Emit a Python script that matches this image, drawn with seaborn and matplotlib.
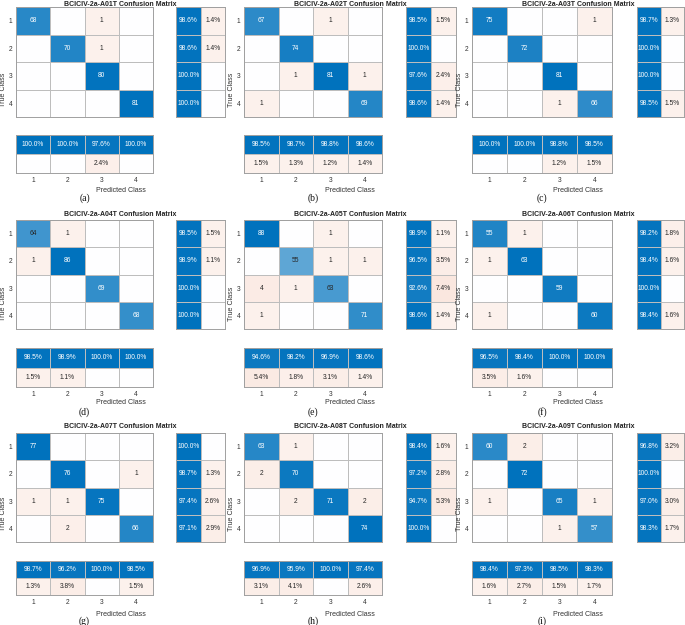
import numpy as np
import matplotlib
matplotlib.use("Agg")
import matplotlib.pyplot as plt
import seaborn as sns
from matplotlib.colors import LinearSegmentedColormap

# confusion matrices (rows = true class, cols = predicted class)
cm_A01 = [[68, 0, 1, 0], [0, 70, 1, 0], [0, 0, 80, 0], [0, 0, 0, 81]]
cm_A02 = [[67, 0, 1, 0], [0, 74, 0, 0], [0, 1, 81, 1], [1, 0, 0, 69]]
cm_A03 = [[75, 0, 0, 1], [0, 72, 0, 0], [0, 0, 81, 0], [0, 0, 1, 66]]
cm_A04 = [[64, 1, 0, 0], [1, 86, 0, 0], [0, 0, 69, 0], [0, 0, 0, 68]]
cm_A05 = [[88, 0, 1, 0], [0, 55, 1, 1], [4, 1, 63, 0], [1, 0, 0, 71]]
cm_A06 = [[55, 1, 0, 0], [1, 63, 0, 0], [0, 0, 59, 0], [1, 0, 0, 60]]
cm_A07 = [[77, 0, 0, 0], [0, 76, 0, 1], [1, 1, 75, 0], [0, 2, 0, 66]]
cm_A08 = [[63, 1, 0, 0], [2, 70, 0, 0], [0, 2, 71, 2], [0, 0, 0, 74]]
cm_A09 = [[60, 2, 0, 0], [0, 72, 0, 0], [1, 0, 65, 1], [0, 0, 1, 57]]

subjects = ["A01T", "A02T", "A03T", "A04T", "A05T", "A06T", "A07T", "A08T", "A09T"]
panel_letters = ["(a)", "(b)", "(c)", "(d)", "(e)", "(f)", "(g)", "(h)", "(i)"]
class_labels = ["1", "2", "3", "4"]
matrices = [cm_A01, cm_A02, cm_A03, cm_A04, cm_A05, cm_A06, cm_A07, cm_A08, cm_A09]

W, H = 685, 625
BLUE = "#0072BD"
ORANGE = "#D95319"
cmap = LinearSegmentedColormap.from_list("cc", [ORANGE, "white", BLUE])
GRID = "#bdbdbd"
FONT = "Liberation Sans"
FS = 4.8

# pixel layout: column x ranges (main left/right, row-summary left/right)
col_x = [(16, 153, 176, 225), (244, 382, 406, 456), (472, 612, 637, 684)]
# row y ranges (title, main top/bottom, col-summary top/bottom, ticks, xlabel, letter)
row_y = [(4.5, 7, 117, 135, 173, 180, 190, 198),
         (214, 220, 329, 348, 387, 393, 402, 412),
         (426, 433, 542, 561, 595, 603, 614, 621)]


def add_ax(fig, x0, x1, y0, y1):
    return fig.add_axes([x0 / W, 1 - y1 / H, (x1 - x0) / W, (y1 - y0) / H])


def shade(correct, frac):
    # diagonal -> blue scale, off-diagonal -> light orange scale
    if frac == 0:
        return 0.0
    return frac if correct else -(0.07 + 0.9 * frac)


def text_color(v):
    r, g, b, _ = cmap((v + 1) / 2)
    lum = 0.299 * r + 0.587 * g + 0.114 * b
    return "white" if lum < 0.5 else "#262626"


def draw_grid(ax, vals, labels):
    sns.heatmap(vals, ax=ax, cmap=cmap, vmin=-1, vmax=1, cbar=False,
                linewidths=0.6, linecolor=GRID, xticklabels=False, yticklabels=False)
    for sp in ax.spines.values():
        sp.set_visible(True)
        sp.set_color("#a0a0a0")
        sp.set_linewidth(0.7)
    nr, nc = vals.shape
    for i in range(nr):
        for j in range(nc):
            if labels[i][j]:
                ax.text(j + 0.5, i + 0.5, labels[i][j], ha="center", va="center",
                        fontsize=FS, family=FONT, color=text_color(vals[i, j]))


sns.set_style("white")
fig = plt.figure(figsize=(W / 100, H / 100), dpi=100)

for k, cm in enumerate(matrices):
    cm = np.array(cm)
    r, c = divmod(k, 3)
    mx0, mx1, rx0, rx1 = col_x[c]
    ty, my0, my1, sy0, sy1, tky, xly, lty = row_y[r]

    n = cm.shape[0]
    mmax = cm.max()
    main_vals = np.array([[shade(i == j, cm[i, j] / mmax) for j in range(n)] for i in range(n)])
    main_labels = [[str(v) if v > 0 else "" for v in row] for row in cm]

    diag = np.diag(cm)
    row_pct = diag / cm.sum(axis=1) * 100
    col_pct = diag / cm.sum(axis=0) * 100

    rs_vals = np.array([[shade(True, p / 100), shade(False, (100 - p) / 100)] for p in row_pct])
    rs_labels = [[f"{p:.1f}%", f"{100 - p:.1f}%" if p < 100 else ""] for p in row_pct]
    cs_vals = np.array([[shade(True, p / 100) for p in col_pct],
                        [shade(False, (100 - p) / 100) for p in col_pct]])
    cs_labels = [[f"{p:.1f}%" for p in col_pct],
                 [f"{100 - p:.1f}%" if p < 100 else "" for p in col_pct]]

    ax = add_ax(fig, mx0, mx1, my0, my1)
    draw_grid(ax, main_vals, main_labels)
    ax.set_yticks(np.arange(n) + 0.5)
    ax.set_yticklabels(class_labels, rotation=0, fontsize=FS, family=FONT, color="#333333")
    ax.tick_params(length=0, pad=2.5)

    axr = add_ax(fig, rx0, rx1, my0, my1)
    draw_grid(axr, rs_vals, rs_labels)
    axr.set_xticks([])
    axr.set_yticks([])

    axc = add_ax(fig, mx0, mx1, sy0, sy1)
    draw_grid(axc, cs_vals, cs_labels)
    axc.set_yticks([])
    axc.set_xticks(np.arange(n) + 0.5)
    axc.set_xticklabels(class_labels, fontsize=FS, family=FONT, color="#333333")
    axc.tick_params(length=0, pad=3)

    cx = (mx0 + rx1) / 2
    fig.text(cx / W, 1 - ty / H, f"BCICIV-2a-{subjects[k]} Confusion Matrix",
             ha="center", va="center", fontsize=5.0, fontweight="bold", family=FONT,
             color="#222222")
    fig.text(cx / W, 1 - xly / H, "Predicted Class", ha="center", va="center",
             fontsize=FS + 0.3, family=FONT, color="#333333")
    fig.text((mx0 - 12.5) / W, 1 - ((my0 + sy1) / 2) / H, "True Class", ha="center",
             va="center", rotation=90, fontsize=FS + 0.3, family=FONT, color="#333333")
    fig.text(((mx0 + mx1) / 2) / W, 1 - lty / H, panel_letters[k], ha="center",
             va="center", fontsize=7, family="Liberation Serif", color="#111111")

fig.savefig("out.png", dpi=100)
